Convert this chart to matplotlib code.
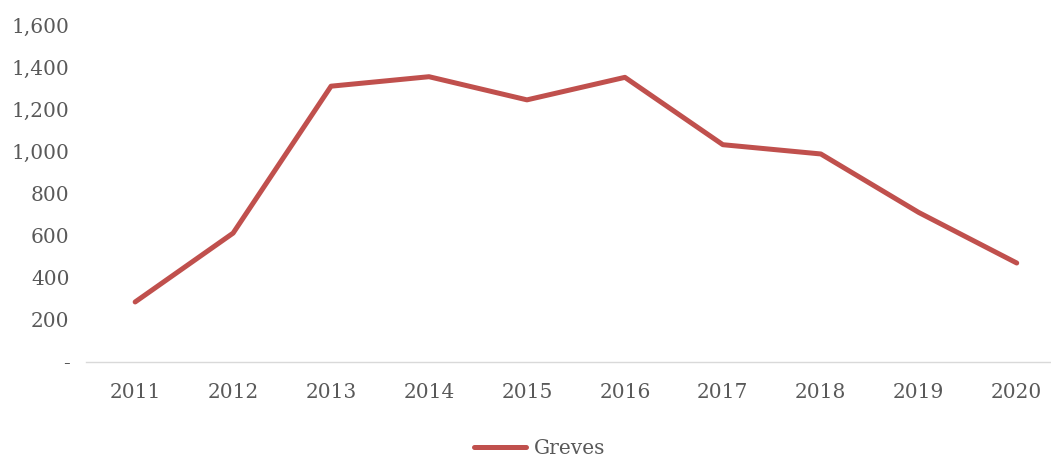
import matplotlib.pyplot as plt
from matplotlib.ticker import FuncFormatter

years = ["2011", "2012", "2013", "2014", "2015", "2016", "2017", "2018", "2019", "2020"]
greves = [285, 612, 1310, 1355, 1245, 1352, 1032, 988, 710, 470]
y_ticks = [0, 200, 400, 600, 800, 1000, 1200, 1400, 1600]

line_color = "#c0504d"
text_color = "#595959"

plt.rcParams["font.family"] = ["DejaVu Serif"]

fig = plt.figure(figsize=(10.51, 4.57), dpi=100)
ax = fig.add_axes([0.082, 0.208, 0.918, 0.737])

x = list(range(len(years)))
ax.plot(x, greves, color=line_color, linewidth=3.6, solid_joinstyle="round",
        solid_capstyle="round", label="Greves")

ax.set_xlim(-0.5, 9.35)
ax.set_ylim(0, 1600)
ax.set_xticks(x)
ax.set_xticklabels(years)
ax.set_yticks(y_ticks)
ax.yaxis.set_major_formatter(
    FuncFormatter(lambda v, _: "-" if v == 0 else f"{int(v):,}"))

for side in ["top", "right", "left"]:
    ax.spines[side].set_visible(False)
ax.spines["bottom"].set_color("#d9d9d9")
ax.spines["bottom"].set_linewidth(1)
ax.tick_params(axis="both", length=0, colors=text_color, labelsize=14.5)
ax.tick_params(axis="x", pad=15)
ax.tick_params(axis="y", pad=12)

ax.legend(loc="center", bbox_to_anchor=(0.47, -0.258), frameon=False,
          fontsize=14.5, labelcolor=text_color, handlelength=2.6,
          handletextpad=0.4)

fig.savefig("out.png", dpi=100)
